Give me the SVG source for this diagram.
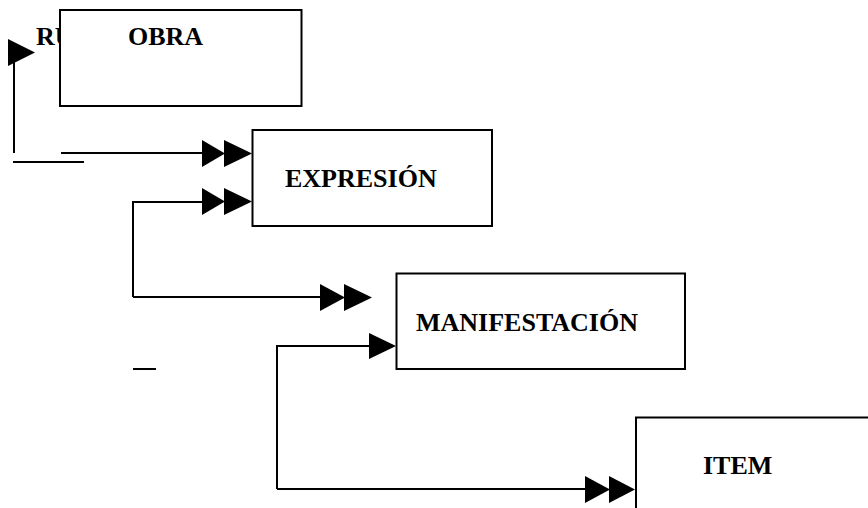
<svg xmlns="http://www.w3.org/2000/svg" width="868" height="508" viewBox="0 0 868 508">
<style>
.box{fill:#fff;stroke:#000;stroke-width:2}
.lbl{font-family:"Liberation Serif","Times New Roman",serif;font-weight:bold;font-size:26px;fill:#000}
.ln{fill:none;stroke:#000;stroke-width:2}
.ah{fill:#000;stroke:none}
</style>
<rect width="868" height="508" fill="#fff"/>
<text class="lbl" x="36" y="45">RU</text>
<g id="obra">
<rect class="box" x="60" y="10" width="241.5" height="96"/>
<text class="lbl" x="128" y="45">OBRA</text>
</g>
<g id="expresion">
<rect class="box" x="252.5" y="130" width="239.5" height="96"/>
<text class="lbl" x="285" y="187">EXPRESIÓN</text>
</g>
<g id="manifestacion">
<rect class="box" x="396.5" y="273.5" width="288.5" height="95.5"/>
<text class="lbl" x="416" y="331">MANIFESTACIÓN</text>
</g>
<g id="item">
<rect class="box" x="636" y="417.5" width="260" height="120"/>
<text class="lbl" x="703" y="474">ITEM</text>
</g>
<g id="connectors">
<polyline class="ln" points="14,153 14,62"/>
<polygon class="ah" points="8,39 35,52.5 8,66"/>
<line class="ln" x1="13" y1="162" x2="84" y2="162"/>
<polyline class="ln" points="61,153 204,153"/>
<polygon class="ah" points="202,140 225,153.5 202,167"/>
<polygon class="ah" points="224,140 252,153.5 224,167"/>
<polyline class="ln" points="133,297 133,202 204,202"/>
<polygon class="ah" points="202,188 225,201.5 202,215"/>
<polygon class="ah" points="224,188 252,201.5 224,215"/>
<polyline class="ln" points="133,297 322,297"/>
<polygon class="ah" points="320,284 345,297.5 320,311"/>
<polygon class="ah" points="344,284 372,297.5 344,311"/>
<line class="ln" x1="133" y1="369" x2="156" y2="369"/>
<polyline class="ln" points="277,489 277,346 371,346"/>
<polygon class="ah" points="369,333 396,346 369,359"/>
<polyline class="ln" points="277,489 587,489"/>
<polygon class="ah" points="585,476 610,489.5 585,503"/>
<polygon class="ah" points="609,476 635,489.5 609,503"/>
</g>
</svg>
